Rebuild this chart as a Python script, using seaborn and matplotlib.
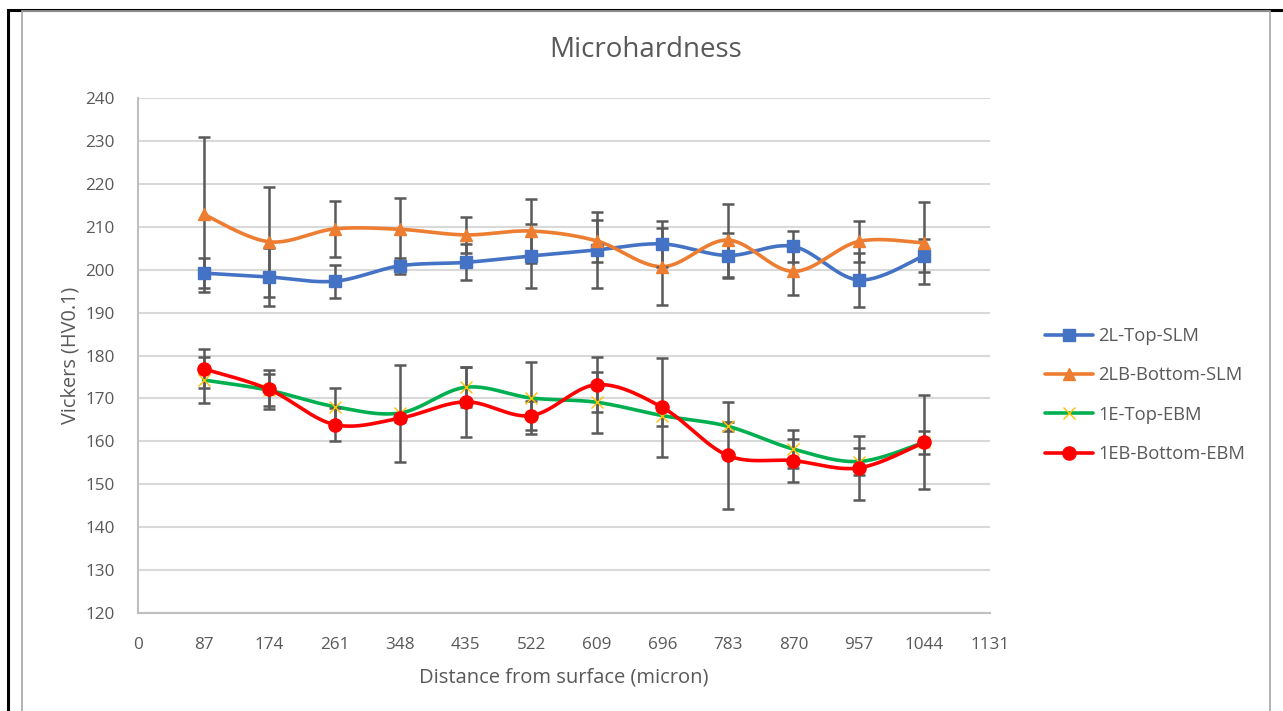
import numpy as np
import pandas as pd
import matplotlib
matplotlib.use("Agg")
import matplotlib.pyplot as plt
import seaborn as sns
from matplotlib.lines import Line2D
from matplotlib.patches import Rectangle

# Indentation depth from the surface (micron)
depth = [87, 174, 261, 348, 435, 522, 609, 696, 783, 870, 957, 1044]

# Vickers microhardness (HV0.1) and standard deviations per build
top_slm = [199.2, 198.3, 197.3, 200.9, 201.7, 203.2, 204.6, 206.0, 203.3, 205.4, 197.6, 203.3]
top_slm_err = [3.5, 6.8, 3.9, 1.9, 4.2, 7.4, 8.8, 5.3, 5.3, 3.6, 6.3, 3.9]

bottom_slm = [212.9, 206.5, 209.5, 209.4, 208.1, 209.0, 206.7, 200.7, 206.9, 199.6, 206.6, 206.2]
bottom_slm_err = [18.0, 12.8, 6.6, 7.4, 4.2, 7.4, 4.9, 9.0, 8.5, 5.4, 4.7, 9.5]

top_ebm = [174.3, 171.9, 168.1, 166.6, 172.6, 170.1, 169.1, 166.0, 163.5, 158.2, 155.3, 159.8]
top_ebm_err = [5.4, 3.7, 4.3, 11.3, 4.7, 8.3, 7.1, 2.5, 1.0, 4.5, 3.1, 2.7]

bottom_ebm = [176.9, 172.1, 163.9, 165.4, 169.2, 166.0, 173.2, 167.9, 156.7, 155.5, 153.8, 159.8]
bottom_ebm_err = [4.5, 4.6, 3.8, 1.0, 8.1, 3.3, 6.4, 11.5, 12.4, 5.0, 7.4, 10.9]

labels = ["2L-Top-SLM", "2LB-Bottom-SLM", "1E-Top-EBM", "1EB-Bottom-EBM"]
x_ticks = list(range(0, 1132, 87))
y_ticks = list(range(120, 241, 10))

TEXT = "#595959"
sns.set_theme(style="white")
plt.rcParams["font.family"] = ["Open Sans", "DejaVu Sans"]


def smooth_curve(x, y, n=40):
    """Bezier smoothing through every point, control points from neighbours."""
    pts = np.column_stack([x, y]).astype(float)
    P = np.vstack([pts[0], pts, pts[-1]])
    t = np.linspace(0, 1, n)[:, None]
    segs = []
    for i in range(1, len(P) - 2):
        p0, p1, p2, p3 = P[i - 1], P[i], P[i + 1], P[i + 2]
        c1 = p1 + (p2 - p0) / 6.0
        c2 = p2 - (p3 - p1) / 6.0
        seg = ((1 - t) ** 3) * p1 + 3 * ((1 - t) ** 2) * t * c1 + 3 * (1 - t) * t ** 2 * c2 + t ** 3 * p2
        segs.append(seg if i == 1 else seg[1:])
    c = np.vstack(segs)
    return c[:, 0], c[:, 1]


series = [
    dict(y=top_slm, err=top_slm_err, color="#4472C4", marker="s", ms=8, mfc="#4472C4", mec="#4472C4", mew=1),
    dict(y=bottom_slm, err=bottom_slm_err, color="#ED7D31", marker="^", ms=9, mfc="#ED7D31", mec="#ED7D31", mew=1),
    dict(y=top_ebm, err=top_ebm_err, color="#00B050", marker="x", ms=9, mfc="#FFC000", mec="#FFC000", mew=1.0),
    dict(y=bottom_ebm, err=bottom_ebm_err, color="#FF0000", marker="o", ms=9.5, mfc="#FF0000", mec="#FF0000", mew=1),
]

fig = plt.figure(figsize=(12.83, 7.11), dpi=100)
ax = fig.add_axes([138 / 1283, 1 - 613 / 711, (990 - 138) / 1283, (613 - 98) / 711])

# frame around the chart
fig.patches.append(Rectangle((8 / 1283, -0.01), 1.0, 1 - 9.5 / 711 + 0.01, transform=fig.transFigure,
                             fill=False, edgecolor="black", linewidth=2.2, zorder=0))
fig.patches.append(Rectangle((22 / 1283, -0.01), (1270 - 22) / 1283, 1 - 10.5 / 711 + 0.01,
                             transform=fig.transFigure, fill=False, edgecolor="#A6A6A6", linewidth=1.2, zorder=0))

handles = []
for i, s in enumerate(series):
    xs, ys = smooth_curve(depth, s["y"])
    sns.lineplot(x=xs, y=ys, ax=ax, color=s["color"], linewidth=2.6, sort=False,
                 estimator=None, zorder=3 + i * 0.1)
    ax.errorbar(depth, s["y"], yerr=s["err"], fmt="none", ecolor="#595959", elinewidth=1.8,
                capsize=4.5, capthick=1.8, zorder=4 + i * 0.1)
    ax.plot(depth, s["y"], linestyle="none", marker=s["marker"], markersize=s["ms"],
            markerfacecolor=s["mfc"], markeredgecolor=s["mec"], markeredgewidth=s["mew"],
            zorder=5 + i * 0.1)
    handles.append(Line2D([0], [0], color=s["color"], linewidth=2.6, marker=s["marker"],
                          markersize=s["ms"], markerfacecolor=s["mfc"], markeredgecolor=s["mec"],
                          markeredgewidth=s["mew"]))

ax.set_xlim(0, 1131)
ax.set_ylim(120, 240)
ax.set_xticks(x_ticks)
ax.set_yticks(y_ticks)
ax.set_xticklabels([str(v) for v in x_ticks])
ax.set_yticklabels([str(v) for v in y_ticks])
ax.yaxis.grid(True, color="#D9D9D9", linewidth=1.5)
ax.xaxis.grid(False)
ax.set_axisbelow(True)
for side in ["top", "right"]:
    ax.spines[side].set_visible(False)
for side in ["left", "bottom"]:
    ax.spines[side].set_color("#BFBFBF")
    ax.spines[side].set_linewidth(1.5)
ax.tick_params(axis="both", which="major", direction="out", length=5, width=1.5, color="#BFBFBF",
               labelsize=12.3, labelcolor=TEXT)
ax.tick_params(axis="x", pad=12)
ax.tick_params(axis="y", pad=12)

ax.set_xlabel("Distance from surface (micron)", fontsize=14.5, color=TEXT, labelpad=11)
ax.set_ylabel("Vickers (HV0.1)", fontsize=14.3, color=TEXT, labelpad=3)
fig.text(0.503, 1 - 50 / 711, "Microhardness", ha="center", va="center", fontsize=20, color=TEXT)

fig.legend(handles, labels, loc="upper left", bbox_to_anchor=(1045 / 1283, 1 - 327 / 711),
           frameon=False, fontsize=13.2, labelcolor=TEXT, handlelength=2.6, handletextpad=0.3,
           labelspacing=1.17, borderpad=0, borderaxespad=0)

fig.savefig("out.png", dpi=100, facecolor="white")
